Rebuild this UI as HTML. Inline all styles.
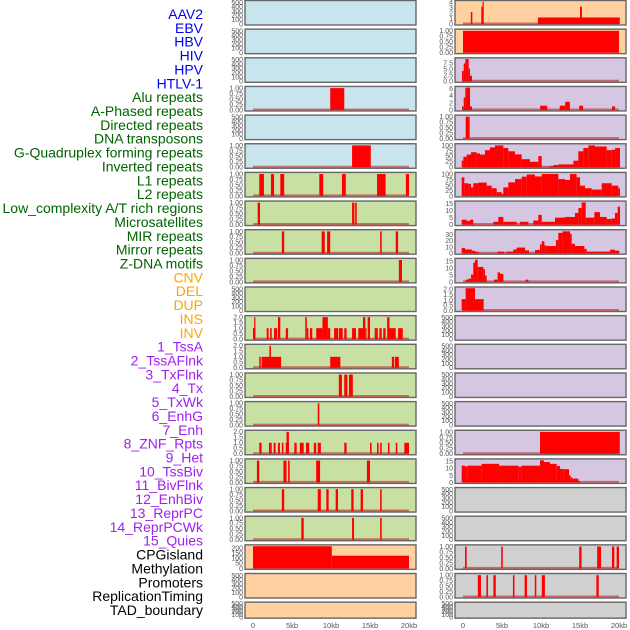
<!DOCTYPE html>
<html><head><meta charset="utf-8"><style>
html,body{margin:0;padding:0;background:#fff;}
svg{display:block;font-family:"Liberation Sans",sans-serif;}
</style></head><body>
<svg id="chart" width="630" height="630" viewBox="0 0 630 630"></svg>
<script>
// ---------- data ----------
const rowLabels = ["AAV2","EBV","HBV","HIV","HPV","HTLV-1","Alu repeats","A-Phased repeats","Directed repeats","DNA transposons","G-Quadruplex forming repeats","Inverted repeats","L1 repeats","L2 repeats","Low_complexity A/T rich regions","Microsatellites","MIR repeats","Mirror repeats","Z-DNA motifs","CNV","DEL","DUP","INS","INV","1_TssA","2_TssAFlnk","3_TxFlnk","4_Tx","5_TxWk","6_EnhG","7_Enh","8_ZNF_Rpts","9_Het","10_TssBiv","11_BivFlnk","12_EnhBiv","13_ReprPC","14_ReprPCWk","15_Quies","CPGisland","Methylation","Promoters","ReplicationTiming","TAD_boundary"];
const labelGroups = [6,13,5,15,5];
const xTickValues = [0,5,10,15,20];
const xTickLabels = ["0","5kb","10kb","15kb","20kb"];
const emptyTicks = [0,100,200,300,400,500];
const unitTicks = [0,0.25,0.5,0.75,1];
const twoTicks = [0,0.5,1,1.5,2];

const L3 = [[9.9,11.7,1]];
const L5 = [[12.7,15.1,1]];
const L6 = [[0.8,1.4,1],[2.3,2.7,1],[3.5,4.0,1],[8.5,9.0,1],[11.4,11.9,1],[15.9,17.0,1],[19.6,20.0,1]];
const L7 = [[0.6,0.9,1],[12.7,13.0,1],[13.1,13.3,1]];
const L8 = [[3.7,4.0,1],[8.8,9.2,1],[9.5,9.9,1],[16.3,16.5,1],[18.3,18.6,1]];
const L9 = [[18.7,19.1,1]];
const L11 = [[0,0.3,1],[0.15,0.25,2],[1.75,2.0,1],[2.2,2.4,1],[2.7,3.1,1],[3.2,3.5,2],[4.2,4.5,1],[6.7,6.9,2],[6.9,7.1,1],[7.3,7.6,1],[8.1,8.9,1],[8.9,9.6,2],[9.6,9.9,1],[10.4,10.9,1],[11.0,11.5,1],[11.7,12.0,1],[12.7,13.2,1],[13.5,14.1,1],[14.1,14.4,2],[14.4,14.5,1],[14.7,15.0,2],[15.6,16.0,1],[16.2,16.5,1],[16.7,17.0,1],[17.2,17.5,2],[17.5,18.3,1],[18.6,19.2,1]];
const L12 = [[0.8,1.0,1],[1.1,3.6,1],[2.1,2.3,2],[9.9,11.2,1],[17.8,18.1,1],[18.2,18.7,1]];
const L13 = [[11.0,11.4,1],[11.7,12.1,1],[12.3,12.8,1]];
const L14 = [[8.3,8.5,1]];
const L15 = [[0.8,1.1,1],[2.05,2.4,1],[2.65,2.9,1],[3.2,3.45,1],[3.7,3.9,1],[4.2,4.6,1],[4.3,4.6,2],[5.3,5.6,1],[6.0,6.5,1],[6.8,7.2,1],[7.8,8.1,1],[8.3,8.7,1],[11.7,12.0,1],[15.0,15.2,1],[15.9,16.1,1],[16.3,16.5,1],[17.3,17.5,1],[18.3,18.5,1],[19.4,20.0,1]];
const L16 = [[0.5,0.8,1],[3.9,4.3,1],[4.5,4.7,1],[8.1,8.6,1],[14.6,15.0,1]];
const L17 = [[3.7,4.0,1],[8.3,8.7,1],[9.4,9.7,1],[10.6,10.9,1],[12.6,12.9,1],[13.8,14.1,1],[16.3,16.5,1]];
const L18 = [[6.2,6.5,1],[12.7,12.95,1],[16.3,16.5,1]];
const L19 = [[0,10.1,218],[10.1,20,125]];

const R0 = [[1.0,1.2,2.2],[2.35,2.5,3.2],[2.5,2.65,4.1],[9.6,20.1,1.2],[15.0,15.25,3.2]];
const R1 = [[0,20,1]];
const R2starts = [-0.13,0.09,0.3,0.73,0.9];
const R2values = [4.3,7.4,9.2,5.3,2.3];
const R2end = 1.15;
const R3 = [[-0.13,0.09,1],[0.09,0.3,3.5],[0.3,0.9,6.3],[0.9,1.15,1],[9.9,10.8,1.2],[12.4,13.1,1.2],[13.1,13.7,2.3],[14.9,15.4,1.2],[19.1,19.5,1]];
const R4 = [[0.35,0.85,1]];
const R5starts = [-0.17,0.04,0.47,1.03,1.75,2.18,2.82,3.46,4.10,5.17,5.81,6.67,7.52,8.59,9.66,10.09,11.03,11.58,12.22,14.15,14.79,15.43,16.07,16.92,18.42,19.06,19.49];
const R5values = [30,48,58,69,63,58,78,91,100,88,73,59,37,25,51,0,4,10,13,30,73,88,100,95,78,80,88];
const R5end = 20.13;
const R6starts = [-0.17,0.17,0.68,1.03,1.32,1.97,3.03,3.68,4.32,4.96,5.17,5.81,6.67,7.52,8.16,9.23,10.09,12.22,13.08,13.72,14.57,15.0,15.64,16.5,17.78,19.06,19.91];
const R6values = [85,58,55,39,58,61,47,35,17,9,39,62,77,88,98,89,100,77,73,100,85,47,35,29,58,47,35];
const R6end = 20.13;
const R7starts = [-0.17,0.47,0.9,1.32,3.89,4.53,5.17,6.88,7.31,8.38,9.02,9.66,10.09,11.79,13.08,14.36,14.79,15.21,15.73,16.84,17.56,18.42,19.06,19.49,19.83];
const R7values = [3.5,2.7,3.5,0,2,5.5,2,0,2,0,2.9,7,2,5,5.5,8.4,12,16,5,9,5.5,4,4.4,8.4,13];
const R7end = 20.13;
const R8starts = [-0.17,0.26,1.11,1.54,1.97,4.44,5.26,5.6,6.45,6.88,7.95,8.46,9.23,9.87,10.09,10.43,10.73,11.92,12.22,12.74,13.72,13.93,14.36,15.56,15.85,18.85,19.49];
const R8values = [8.5,6,4,2.5,0,2.5,0,2.5,6,9,4.5,0,5,14,19,12.5,11.5,21,32.5,35,31,15,11.5,7,2.5,5.5,4];
const R8end = 20.04;
const R9starts = [0.34,0.68,1.03,1.32,1.54,1.88,2.61,2.82,3.03,3.97,4.44,4.74,5.17,8.03];
const R9values = [1.6,2.3,5.3,13.9,16,10.8,9.2,4.6,0,1.6,6.9,5.8,0,1.6];
const R9end = 8.38;
const R10 = [[-0.17,0.34,1.07],[0.34,1.54,2.1],[1.54,2.65,1.07]];
const R15 = [[9.87,20.1,1]];
const R16starts = [-0.17,0.26,0.6,2.39,4.62,7.09,7.52,9.87,10.38,11.15,12.01,12.44,12.86,13.59,13.8,14.06,14.79];
const R16values = [11.9,11.4,11.9,13.2,11.9,11.2,11.9,15.7,14.5,13.2,11.6,9.6,9.4,5.1,3.4,2.7,1.1];
const R16end = 15.0;
const R19 = [[0.26,0.47,1],[4.9,5.1,1],[14.9,15.2,1],[17.2,17.7,1],[19.1,19.4,1],[19.7,20.0,1]];
const R20 = [[1.9,2.3,1],[3.0,3.2,1],[3.9,4.2,1],[6.4,6.6,1],[7.9,8.2,1],[9.2,9.4,1],[10.1,10.5,1],[17.1,17.4,1]];

function steps(starts, values, end){
  return starts.map((s,i)=>[s, i+1<starts.length?starts[i+1]:end, values[i]]);
}

const BG = {blue:"#c8e4ec",green:"#c8e0a4",orange:"#ffd0a0",purple:"#d5c6e2",grey:"#d0d0d0"};
const leftBg = ["blue","blue","blue","blue","blue","blue","green","green","green","green","green","green","green","green","green","green","green","green","green","orange","orange","orange"];
const rightBg = ["orange","orange","purple","purple","purple","purple","purple","purple","purple","purple","purple","purple","purple","purple","purple","purple","purple","grey","grey","grey","grey","grey"];
const U = {ymax:1.03,ticks:unitTicks,dec:2};
const T = {ymax:2.05,ticks:twoTicks,dec:1};
const leftTracks = [null,null,null,
  Object.assign({segs:L3},U),null,Object.assign({segs:L5},U),
  Object.assign({segs:L6},U),Object.assign({segs:L7},U),Object.assign({segs:L8},U),Object.assign({segs:L9},U),null,
  Object.assign({segs:L11},T),Object.assign({segs:L12},T),Object.assign({segs:L13},U),Object.assign({segs:L14},U),
  Object.assign({segs:L15},T),Object.assign({segs:L16},U),Object.assign({segs:L17},U),Object.assign({segs:L18},U),
  {segs:L19,ymax:222,ticks:[0,50,100,150,200],dec:0},null,null];
const rightTracks = [
  {segs:R0,ymax:4.15,ticks:[0,1,2,3,4],dec:0},
  Object.assign({segs:R1},U),
  {segs:steps(R2starts,R2values,R2end),ymax:9.3,ticks:[0,2.5,5,7.5],dec:1},
  {segs:R3,ymax:6.35,ticks:[0,2,4,6],dec:0},
  Object.assign({segs:R4},U),
  {segs:steps(R5starts,R5values,R5end),ymax:103,ticks:[0,25,50,75,100],dec:0},
  {segs:steps(R6starts,R6values,R6end),ymax:103,ticks:[0,25,50,75,100],dec:0},
  {segs:steps(R7starts,R7values,R7end),ymax:16.3,ticks:[0,5,10,15],dec:0},
  {segs:steps(R8starts,R8values,R8end),ymax:36,ticks:[0,10,20,30],dec:0},
  {segs:steps(R9starts,R9values,R9end),ymax:16.3,ticks:[0,5,10,15],dec:0},
  {segs:R10,ymax:2.12,ticks:twoTicks,dec:1},
  null,null,null,null,
  Object.assign({segs:R15},U),
  {segs:steps(R16starts,R16values,R16end),ymax:16,ticks:[0,5,10,15],dec:0},
  null,null,
  Object.assign({segs:R19},U),Object.assign({segs:R20},U),null];

const NS="http://www.w3.org/2000/svg";
const svg=document.getElementById("chart");
function mk(tag,attrs,parent){const e=document.createElementNS(NS,tag);for(const k in attrs)e.setAttribute(k,attrs[k]);(parent||svg).appendChild(e);return e;}

const groupColors=["#0000ee","#006400","#ffa500","#a020f0","#000000"];
let li=0;
labelGroups.forEach((n,g)=>{for(let k=0;k<n;k++){
  const t=mk("text",{x:203,y:19+li*13.86,"text-anchor":"end","font-size":"14",fill:groupColors[g]});
  t.textContent=rowLabels[li];
  
  
  li++;}});

const cols=[{px:245,x0:253,tracks:leftTracks,bgs:leftBg,tickX:243},{px:455,x0:463,tracks:rightTracks,bgs:rightBg,tickX:453}];
const KB=7.8;
cols.forEach((c,ci)=>{
  const xs=kb=>c.x0+kb*KB;
  for(let r=0;r<22;r++){
    const top=0.5+r*28.65, h=(r===21?16:24.5), bot=top+h;
    const g=mk("g",{});
    
    
    const rect=mk("rect",{x:c.px,y:top,width:171,height:h,fill:BG[c.bgs[r]],stroke:"#666",["stroke-width"]:1.4},g);
    
    
    const tr=c.tracks[r];
    const ymax=tr?tr.ymax:520, ticks=tr?tr.ticks:emptyTicks, dec=tr?tr.dec:0;
    const ys=v=>bot-1-v/ymax*(h-2);
    ticks.forEach(tv=>{
      const t=mk("text",{x:c.tickX,y:ys(tv)+2.4,"text-anchor":"end","font-size":"7",fill:"#555"},g);
      t.textContent=tv.toFixed(dec);
      
      
    });
    if(tr){
      const bl=mk("line",{x1:xs(0),x2:xs(20),y1:bot-1.5,y2:bot-1.5,stroke:"rgba(190,40,40,0.6)","stroke-width":2},g);
      
      
      tr.segs.forEach(s=>{
        if(s[2]<=0)return;
        const x1=xs(s[0]),x2=xs(s[1]);
        const b=mk("rect",{x:x1,y:ys(s[2]),width:Math.max(x2-x1,1.2),height:bot-1-ys(s[2]),fill:"#ff0000"},g);
        
        
      });
    }
  }
  xTickValues.forEach((v,i)=>{
    const t=mk("text",{x:xs(v),y:628,"text-anchor":"middle","font-size":"7.5",fill:"#555"});
    t.textContent=xTickLabels[i];
    
    
  });
});
</script>
</body></html>
